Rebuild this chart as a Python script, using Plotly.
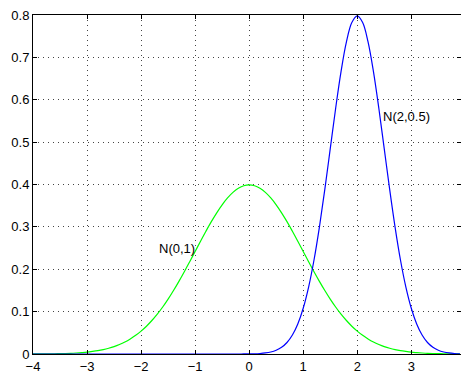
import plotly.graph_objects as go

x_vals = [-4.0, -3.9, -3.8, -3.7, -3.6, -3.5, -3.4, -3.3, -3.2, -3.1,
          -3.0, -2.9, -2.8, -2.7, -2.6, -2.5, -2.4, -2.3, -2.2, -2.1,
          -2.0, -1.9, -1.8, -1.7, -1.6, -1.5, -1.4, -1.3, -1.2, -1.1,
          -1.0, -0.9, -0.8, -0.7, -0.6, -0.5, -0.4, -0.3, -0.2, -0.1,
          0.0, 0.1, 0.2, 0.3, 0.4, 0.5, 0.6, 0.7, 0.8, 0.9,
          1.0, 1.1, 1.2, 1.3, 1.4, 1.5, 1.6, 1.7, 1.8, 1.9,
          2.0, 2.1, 2.2, 2.3, 2.4, 2.5, 2.6, 2.7, 2.8, 2.9,
          3.0, 3.1, 3.2, 3.3, 3.4, 3.5, 3.6, 3.7, 3.8, 3.9]

n01 = [0.0001, 0.0002, 0.0003, 0.0004, 0.0006, 0.0009, 0.0012, 0.0017, 0.0024, 0.0033,
       0.0044, 0.0060, 0.0079, 0.0104, 0.0136, 0.0175, 0.0224, 0.0283, 0.0355, 0.0440,
       0.0540, 0.0656, 0.0790, 0.0940, 0.1109, 0.1295, 0.1497, 0.1714, 0.1942, 0.2179,
       0.2420, 0.2661, 0.2897, 0.3123, 0.3332, 0.3521, 0.3683, 0.3814, 0.3910, 0.3970,
       0.3989, 0.3970, 0.3910, 0.3814, 0.3683, 0.3521, 0.3332, 0.3123, 0.2897, 0.2661,
       0.2420, 0.2179, 0.1942, 0.1714, 0.1497, 0.1295, 0.1109, 0.0940, 0.0790, 0.0656,
       0.0540, 0.0440, 0.0355, 0.0283, 0.0224, 0.0175, 0.0136, 0.0104, 0.0079, 0.0060,
       0.0044, 0.0033, 0.0024, 0.0017, 0.0012, 0.0009, 0.0006, 0.0004, 0.0003, 0.0002]

n2_05 = [0.0, 0.0, 0.0, 0.0, 0.0, 0.0, 0.0, 0.0, 0.0, 0.0,
         0.0, 0.0, 0.0, 0.0, 0.0, 0.0, 0.0, 0.0, 0.0, 0.0,
         0.0, 0.0, 0.0, 0.0, 0.0, 0.0, 0.0, 0.0, 0.0, 0.0,
         0.0, 0.0, 0.0, 0.0, 0.0, 0.0, 0.0, 0.0, 0.0, 0.0001,
         0.0003, 0.0006, 0.0012, 0.0025, 0.0048, 0.0089, 0.0158, 0.0271, 0.0448, 0.0709,
         0.1080, 0.1579, 0.2218, 0.2995, 0.3884, 0.4839, 0.5794, 0.6664, 0.7365, 0.7821,
         0.7979, 0.7821, 0.7365, 0.6664, 0.5794, 0.4839, 0.3884, 0.2995, 0.2218, 0.1579,
         0.1080, 0.0709, 0.0448, 0.0271, 0.0158, 0.0089, 0.0048, 0.0025, 0.0012, 0.0006]

x_ticks = [-4, -3, -2, -1, 0, 1, 2, 3]
y_ticks = [0, 0.1, 0.2, 0.3, 0.4, 0.5, 0.6, 0.7, 0.8]

labels = ["N(0,1)", "N(2,0.5)"]
label_x = [-1.70, 2.44]
label_y = [0.25, 0.561]

fig = go.Figure()
fig.add_trace(go.Scatter(x=x_vals, y=n01, mode="lines", line=dict(color="#00ff00", width=1.2, shape="spline"),
                         name=labels[0]))
fig.add_trace(go.Scatter(x=x_vals, y=n2_05, mode="lines", line=dict(color="#0000ff", width=1.2, shape="spline"),
                         name=labels[1]))

for t, ax, ay in zip(labels, label_x, label_y):
    fig.add_annotation(x=ax, y=ay, text=t, showarrow=False, xanchor="left", yanchor="middle",
                       font=dict(size=13, color="black"))

axis_common = dict(
    showline=True, linecolor="black", linewidth=1, mirror="allticks",
    ticks="inside", ticklen=4, tickcolor="black",
    showgrid=True, gridcolor="#444444", gridwidth=1, griddash="1px,4px",
    zeroline=False, tickfont=dict(size=13, color="black"), automargin=False,
)

fig.update_xaxes(range=[-4, 3.92], tickvals=x_ticks, ticklabelstandoff=0, **axis_common)
fig.update_yaxes(range=[0, 0.8], tickvals=y_ticks, ticklabelstandoff=0, **axis_common)

fig.update_layout(
    width=461, height=371,
    margin=dict(l=33, r=0, t=15, b=17, autoexpand=False),
    plot_bgcolor="white", paper_bgcolor="white",
    showlegend=False,
    font=dict(family="Liberation Sans, Arial, sans-serif", size=13, color="black"),
)

fig.write_html(
    "out.html",
    config={"displayModeBar": False},
    post_script="document.body.style.margin='0';document.body.style.overflow='hidden';",
)
